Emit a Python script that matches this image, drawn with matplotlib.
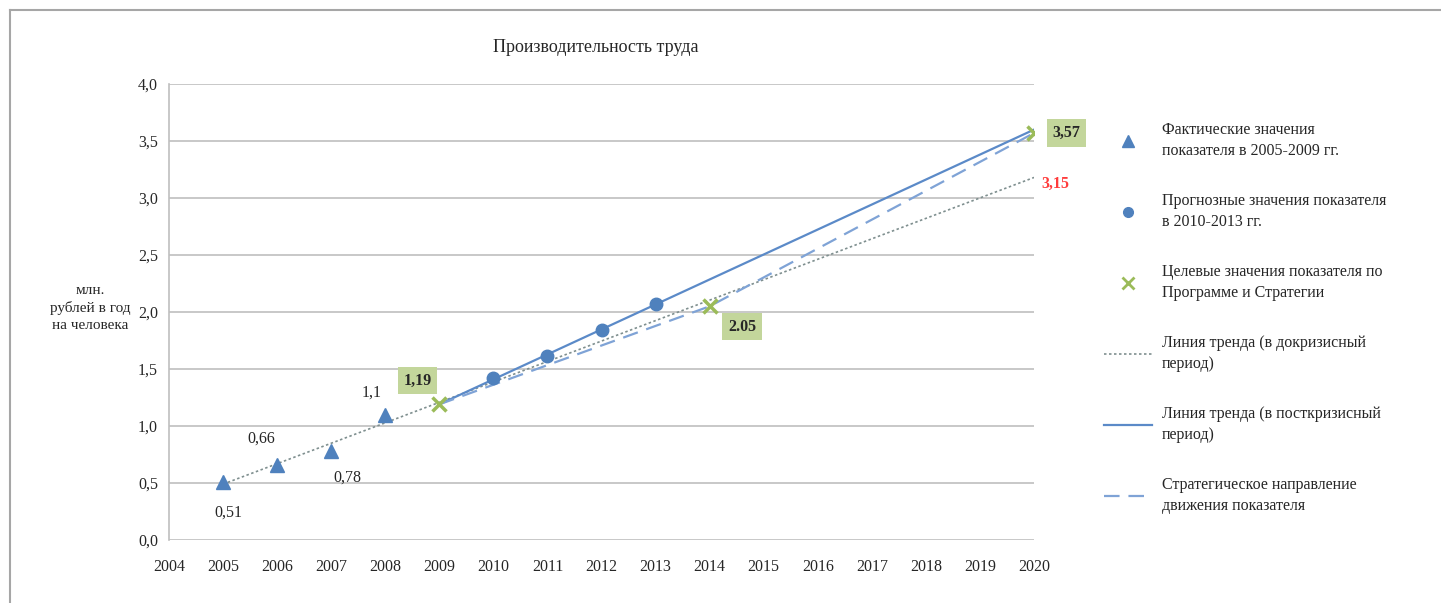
import matplotlib
matplotlib.use("Agg")
import matplotlib.pyplot as plt
from matplotlib.lines import Line2D
from matplotlib.ticker import FuncFormatter

plt.rcParams['font.family'] = ['Liberation Serif', 'DejaVu Serif']

# ---- data ----
actual_years = [2005, 2006, 2007, 2008]
actual_vals = [0.51, 0.66, 0.78, 1.10]
forecast_years = [2010, 2011, 2012, 2013]
forecast_vals = [1.42, 1.61, 1.84, 2.07]
target_years = [2009, 2014, 2020]
target_vals = [1.19, 2.05, 3.57]
pre_trend_years = [2005, 2020]
pre_trend_vals = [0.49, 3.18]
post_trend_years = [2009, 2020]
post_trend_vals = [1.19, 3.60]
strategy_years = [2009, 2014, 2020]
strategy_vals = [1.19, 2.05, 3.57]
year_ticks = list(range(2004, 2021))
y_ticks = [0.0, 0.5, 1.0, 1.5, 2.0, 2.5, 3.0, 3.5, 4.0]

BLUE = '#4F81BD'
LINE_BLUE = '#5B8AC8'
DASH_BLUE = '#7FA3D6'
GREEN = '#9BBB59'
BOX = '#C3D69B'
GRID = '#BFBFBF'
TXT = '#262626'

fig = plt.figure(figsize=(14.41, 6.03), dpi=100)
ax = fig.add_axes([0.1173, 0.1045, 0.6003, 0.7562])

# outer frame (left/top visible)
fig.add_artist(Line2D([10/1441, 10/1441], [0, 1 - 10/603], color='#A6A6A6', lw=1.5, transform=fig.transFigure))
fig.add_artist(Line2D([10/1441, 1], [1 - 10/603, 1 - 10/603], color='#A6A6A6', lw=1.5, transform=fig.transFigure))

ax.set_xlim(2004, 2020)
ax.set_ylim(0, 4.0)
ax.set_xticks(year_ticks)
ax.set_xticklabels([str(y) for y in year_ticks])
ax.set_yticks(y_ticks)
ax.yaxis.set_major_formatter(FuncFormatter(lambda v, p: f"{v:.1f}".replace('.', ',')))
ax.grid(axis='y', color=GRID, lw=1.2)
ax.set_axisbelow(True)
for s in ['top', 'right', 'bottom']:
    ax.spines[s].set_visible(False)
ax.spines['left'].set_color(GRID)
ax.spines['left'].set_linewidth(1.2)
ax.tick_params(axis='both', length=0, labelsize=11.5, colors=TXT, pad=8)
ax.tick_params(axis='x', pad=14)

# lines
ax.plot(pre_trend_years, pre_trend_vals, ls=(0, (1.5, 1.5)), color='#7F8F8F', lw=1.2, zorder=2)
ax.plot(post_trend_years, post_trend_vals, ls='-', color=LINE_BLUE, lw=1.6, zorder=2)
ax.plot(strategy_years, strategy_vals, ls=(0, (7, 4)), color=DASH_BLUE, lw=1.6, zorder=2)

# markers
ax.plot(actual_years, actual_vals, ls='none', marker='^', ms=10, color=BLUE, zorder=4)
ax.plot(forecast_years, forecast_vals, ls='none', marker='o', ms=9, color=BLUE, zorder=4)
ax.plot(target_years, target_vals, ls='none', marker='x', ms=10, mew=2.5, color=GREEN, zorder=5)

# data labels
lab_kw = dict(fontsize=11.5, color=TXT, ha='center', va='center')
ax.text(2005.1, 0.24, "0,51", **lab_kw)
ax.text(2005.7, 0.89, "0,66", **lab_kw)
ax.text(2007.3, 0.55, "0,78", **lab_kw)
ax.text(2007.75, 1.29, "1,1", **lab_kw)
box = dict(boxstyle='square,pad=0.35', fc=BOX, ec='none')
ax.text(2008.6, 1.40, "1,19", fontsize=11.5, fontweight='bold', color=TXT, ha='center', va='center', bbox=box, zorder=6)
ax.text(2014.6, 1.87, "2.05", fontsize=11.5, fontweight='bold', color=TXT, ha='center', va='center', bbox=box, zorder=6)
ax.text(2020.6, 3.57, "3,57", fontsize=11.5, fontweight='bold', color=TXT, ha='center', va='center', bbox=box, zorder=6, clip_on=False)
ax.text(2020.4, 3.12, "3,15", fontsize=11.5, fontweight='bold', color='#FF3B3B', ha='center', va='center', clip_on=False)

# title
fig.text(596/1441, 1 - 47/603, "Производительность труда", fontsize=13, color=TXT, ha='center', va='center')

# y label
fig.text(90/1441, 1 - 308/603, "млн.\nрублей в год\nна человека", fontsize=11, color=TXT,
         ha='center', va='center', linespacing=1.35)

# legend
handles = [
    Line2D([], [], ls='none', marker='^', ms=8, color=BLUE),
    Line2D([], [], ls='none', marker='o', ms=7, color=BLUE),
    Line2D([], [], ls='none', marker='x', ms=8, mew=2, color=GREEN),
    Line2D([], [], ls=(0, (1.5, 1.5)), color='#7F8F8F', lw=1.2),
    Line2D([], [], ls='-', color=LINE_BLUE, lw=1.6),
    Line2D([], [], ls=(0, (7, 4)), color=DASH_BLUE, lw=1.6),
]
labels = [
    "Фактические значения\nпоказателя в 2005-2009 гг.",
    "Прогнозные значения показателя\nв 2010-2013 гг.",
    "Целевые значения показателя по\nПрограмме и Стратегии",
    "Линия тренда (в докризисный\nпериод)",
    "Линия тренда (в посткризисный\nпериод)",
    "Стратегическое направление\nдвижения показателя",
]
leg = fig.legend(handles, labels, loc='upper left', bbox_to_anchor=(1104/1441, 1 - 122/603),
                 frameon=False, fontsize=11.5, handlelength=3.0, handletextpad=0.6,
                 labelspacing=2.1, borderaxespad=0, borderpad=0, labelcolor=TXT)
for t in leg.get_texts():
    t.set_linespacing(1.45)

fig.savefig("out.png", dpi=100, facecolor='white')
